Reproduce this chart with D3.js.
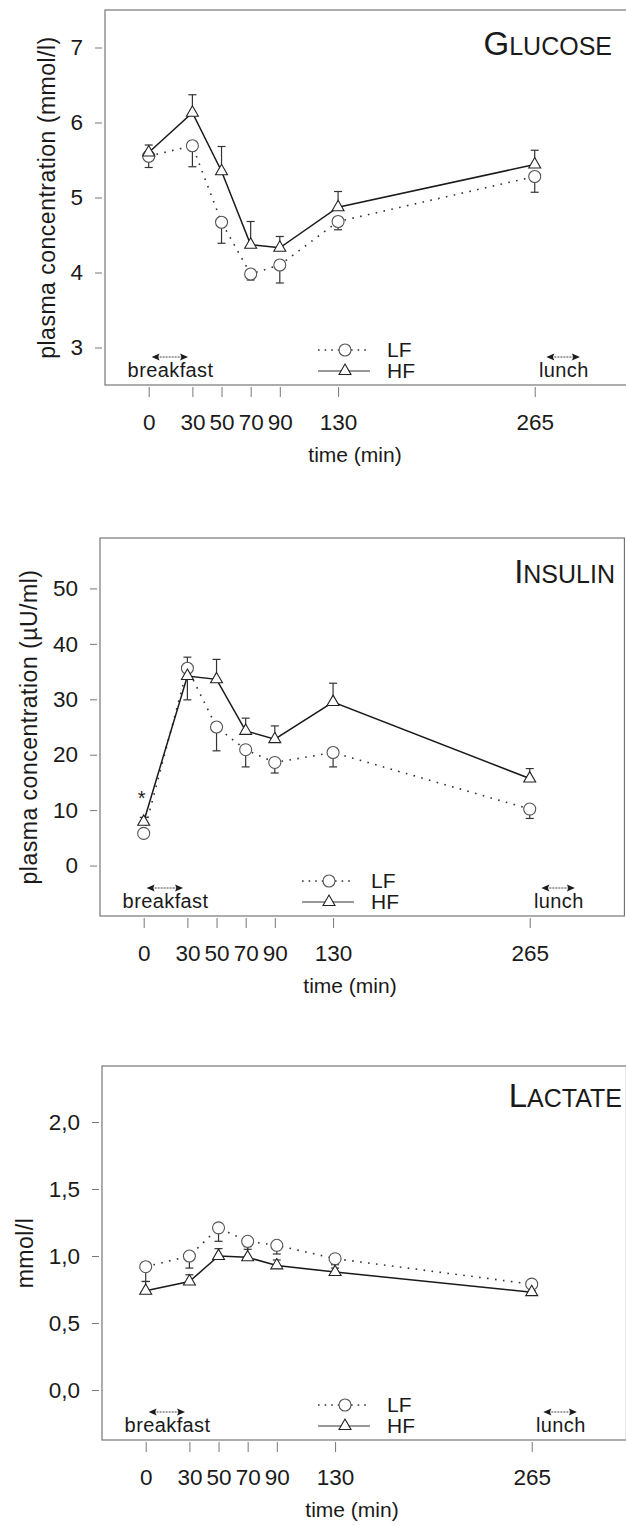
<!DOCTYPE html>
<html>
<head>
<meta charset="utf-8">
<script src="https://cdn.jsdelivr.net/npm/d3@7"></script>
<style>
  html, body { margin: 0; padding: 0; background: #fff; }
  svg { display: block; }
  text { font-family: "Liberation Sans", Arial, Helvetica, sans-serif; fill: #1a1a1a; }
</style>
</head>
<body>
<svg id="chart" width="626" height="1526"></svg>
<script>
// Sampling times after breakfast (min)
const times = [0, 30, 50, 70, 90, 130, 265];
const timeTickLabels = ["0", "30", "50", "70", "90", "130", "265"];

// Plasma glucose (mmol/l), mean and SEM
const glucoseLF    = [5.55, 5.69, 4.67, 3.98, 4.10, 4.68, 5.28];
const glucoseLFsem = [0.15, 0.28, 0.28, 0.08, 0.24, 0.11, 0.21];
const glucoseHF    = [5.60, 6.13, 5.35, 4.37, 4.33, 4.87, 5.44];
const glucoseHFsem = [0.10, 0.24, 0.33, 0.31, 0.15, 0.21, 0.19];
const glucoseTicks = [3, 4, 5, 6, 7];

// Plasma insulin (µU/ml), mean and SEM
const insulinLF    = [5.8, 35.6, 25.0, 20.9, 18.6, 20.4, 10.2];
const insulinLFsem = [0.7, 5.7, 4.3, 3.1, 1.9, 2.6, 1.7];
const insulinHF    = [7.9, 34.2, 33.6, 24.3, 22.8, 29.5, 15.7];
const insulinHFsem = [0.8, 3.4, 3.6, 2.3, 2.4, 3.4, 1.8];
const insulinTicks = [0, 10, 20, 30, 40, 50];
const insulinSignificant = [0];   // times marked with an asterisk

// Plasma lactate (mmol/l), mean and SEM
const lactateLF    = [0.92, 1.00, 1.21, 1.11, 1.08, 0.98, 0.79];
const lactateLFsem = [0.11, 0.09, 0.10, 0.06, 0.065, 0.07, 0.05];
const lactateHF    = [0.74, 0.81, 1.00, 0.99, 0.93, 0.88, 0.73];
const lactateHFsem = [0.07, 0.05, 0.055, 0.08, 0.04, 0.055, 0.04];
const lactateTicks = [0, 0.5, 1.0, 1.5, 2.0];

// Meal periods drawn as double arrows (min)
const breakfastSpan = [2, 27];
const lunchSpan = [273, 296];
const breakfastCenter = 15;
const lunchCenter = 285;

const xDomain = [-30, 330];
const xWidth = 524.4;

const commaFmt = d3.formatLocale({decimal: ",", thousands: ".", grouping: [3], currency: ["", ""]}).format(".1f");

const panels = [
  { title: ["G", "LUCOSE"], yLabel: "plasma concentration (mmol/l)", yLabelX: 55,
    lf: glucoseLF, lfSem: glucoseLFsem, hf: glucoseHF, hfSem: glucoseHFsem,
    ticks: glucoseTicks, tickFmt: d3.format("d"), yDomain: [2.5, 7.5],
    left: 105, top: 10, bottom: 385, titleX: 612, titleDy: 45, legendDx: 240, stars: [] },
  { title: ["I", "NSULIN"], yLabel: "plasma concentration (\u00b5U/ml)", yLabelX: 37,
    lf: insulinLF, lfSem: insulinLFsem, hf: insulinHF, hfSem: insulinHFsem,
    ticks: insulinTicks, tickFmt: d3.format("d"), yDomain: [-9.1, 59.1],
    left: 100, top: 538, bottom: 916, titleX: 615, titleDy: 45, legendDx: 229, stars: insulinSignificant },
  { title: ["L", "ACTATE"], yLabel: "mmol/l", yLabelX: 33,
    lf: lactateLF, lfSem: lactateLFsem, hf: lactateHF, hfSem: lactateHFsem,
    ticks: lactateTicks, tickFmt: commaFmt, yDomain: [-0.373, 2.418],
    left: 102, top: 1066, bottom: 1440, titleX: 622, titleDy: 41, legendDx: 243, stars: [] }
];

const svg = d3.select("#chart");
svg.append("rect").attr("width", 626).attr("height", 1526).attr("fill", "#fff");

const triangle = d3.symbol().type(d3.symbolTriangle).size(62);

function doubleArrow(g, x1, x2, yy) {
  g.append("line").attr("x1", x1 + 5).attr("x2", x2 - 5).attr("y1", yy).attr("y2", yy)
    .attr("stroke", "#444").attr("stroke-width", 1).attr("stroke-dasharray", "2,1");
  g.append("path").attr("d", `M${x1},${yy} l8,-3.5 l-1.5,3.5 l1.5,3.5 z`).attr("fill", "#1a1a1a");
  g.append("path").attr("d", `M${x2},${yy} l-8,-3.5 l1.5,3.5 l-1.5,3.5 z`).attr("fill", "#1a1a1a");
}

panels.forEach(p => {
  const x = d3.scaleLinear().domain(xDomain).range([p.left, p.left + xWidth]);
  const y = d3.scaleLinear().domain(p.yDomain).range([p.bottom, p.top]);
  const g = svg.append("g");

  // frame
  g.append("rect").attr("x", p.left).attr("y", p.top)
    .attr("width", xWidth).attr("height", p.bottom - p.top)
    .attr("fill", "none").attr("stroke", "#6a6a6a").attr("stroke-width", 1.1);

  // y axis (ticks sit just outside the frame)
  const ya = g.append("g").attr("transform", `translate(${p.left - 3},0)`)
    .call(d3.axisLeft(y).tickValues(p.ticks).tickSize(7).tickPadding(12).tickFormat(p.tickFmt));
  ya.select(".domain").remove();
  ya.selectAll(".tick line").attr("stroke", "#777");
  ya.selectAll(".tick text").attr("font-size", 22.5).attr("font-family", null).attr("fill", "#1a1a1a");

  // x axis
  const xa = g.append("g").attr("transform", `translate(0,${p.bottom + 2})`)
    .call(d3.axisBottom(x).tickValues(times).tickSize(10).tickFormat((d, i) => timeTickLabels[i]));
  xa.select(".domain").remove();
  xa.selectAll(".tick line").attr("stroke", "#777");
  xa.selectAll(".tick text").attr("font-size", 22.5).attr("font-family", null)
    .attr("fill", "#1a1a1a").attr("dy", null).attr("y", 43);

  g.append("text").attr("x", p.left + 250).attr("y", p.bottom + 77)
    .attr("text-anchor", "middle").attr("font-size", 21).text("time (min)");

  // y axis title
  g.append("text")
    .attr("transform", `translate(${p.yLabelX},${(p.top + p.bottom) / 2}) rotate(-90)`)
    .attr("text-anchor", "middle").attr("font-size", 23).attr("letter-spacing", 0.5)
    .text(p.yLabel);

  // panel title in small capitals
  const t = g.append("text").attr("x", p.titleX).attr("y", p.top + p.titleDy).attr("text-anchor", "end");
  t.append("tspan").attr("font-size", 33).text(p.title[0]);
  t.append("tspan").attr("font-size", 25).text(p.title[1]);

  const lfData = times.map((tm, i) => ({t: tm, v: p.lf[i], e: p.lfSem[i]}));
  const hfData = times.map((tm, i) => ({t: tm, v: p.hf[i], e: p.hfSem[i]}));

  // error bars: LF downward, HF upward
  const bars = (data, dir, color) => {
    const eg = g.append("g").attr("stroke", color).attr("stroke-width", 1.2);
    data.forEach(d => {
      const y0 = y(d.v), y1 = y(d.v + dir * d.e);
      eg.append("line").attr("x1", x(d.t)).attr("x2", x(d.t)).attr("y1", y0).attr("y2", y1);
      eg.append("line").attr("x1", x(d.t) - 4).attr("x2", x(d.t) + 4).attr("y1", y1).attr("y2", y1);
    });
  };
  bars(lfData, -1, "#333");
  bars(hfData, 1, "#333");

  const line = d3.line().x(d => x(d.t)).y(d => y(d.v));
  g.append("path").datum(lfData).attr("d", line).attr("fill", "none")
    .attr("stroke", "#333").attr("stroke-width", 1.6).attr("stroke-dasharray", "1.6,6.4");
  g.append("path").datum(hfData).attr("d", line).attr("fill", "none")
    .attr("stroke", "#1a1a1a").attr("stroke-width", 1.5);

  g.selectAll(null).data(lfData).join("circle")
    .attr("cx", d => x(d.t)).attr("cy", d => y(d.v)).attr("r", 6)
    .attr("fill", "#fff").attr("stroke", "#555").attr("stroke-width", 1.1);
  g.selectAll(null).data(hfData).join("path")
    .attr("transform", d => `translate(${x(d.t)},${y(d.v)})`).attr("d", triangle)
    .attr("fill", "#fff").attr("stroke", "#222").attr("stroke-width", 1.1);

  // significance marks
  p.stars.forEach(tm => {
    const i = times.indexOf(tm);
    g.append("text").attr("x", x(tm) - 2).attr("y", y(p.hf[i]) - 17)
      .attr("text-anchor", "middle").attr("font-size", 20).text("*");
  });

  // meals
  const mealY = p.bottom - 28;
  doubleArrow(g, x(breakfastSpan[0]), x(breakfastSpan[1]), mealY);
  doubleArrow(g, x(lunchSpan[0]), x(lunchSpan[1]), mealY);
  g.append("text").attr("x", x(breakfastCenter)).attr("y", p.bottom - 8)
    .attr("text-anchor", "middle").attr("font-size", 20).attr("letter-spacing", 0.4).text("breakfast");
  g.append("text").attr("x", x(lunchCenter)).attr("y", p.bottom - 8)
    .attr("text-anchor", "middle").attr("font-size", 20).attr("letter-spacing", 0.4).text("lunch");

  // legend
  const lx = p.left + p.legendDx;
  const lfY = p.bottom - 28, hfY = p.bottom - 7;
  g.append("line").attr("x1", lx - 27).attr("x2", lx + 25).attr("y1", lfY - 7).attr("y2", lfY - 7)
    .attr("stroke", "#333").attr("stroke-width", 1.6).attr("stroke-dasharray", "1.6,5");
  g.append("circle").attr("cx", lx).attr("cy", lfY - 7).attr("r", 6)
    .attr("fill", "#fff").attr("stroke", "#555").attr("stroke-width", 1.1);
  g.append("line").attr("x1", lx - 27).attr("x2", lx + 25).attr("y1", hfY - 7).attr("y2", hfY - 7)
    .attr("stroke", "#333").attr("stroke-width", 1.1);
  g.append("path").attr("transform", `translate(${lx},${hfY - 7})`).attr("d", triangle)
    .attr("fill", "#fff").attr("stroke", "#222").attr("stroke-width", 1.1);
  g.append("text").attr("x", lx + 42).attr("y", lfY).attr("font-size", 21).text("LF");
  g.append("text").attr("x", lx + 42).attr("y", hfY).attr("font-size", 21).text("HF");
});
</script>
</body>
</html>
